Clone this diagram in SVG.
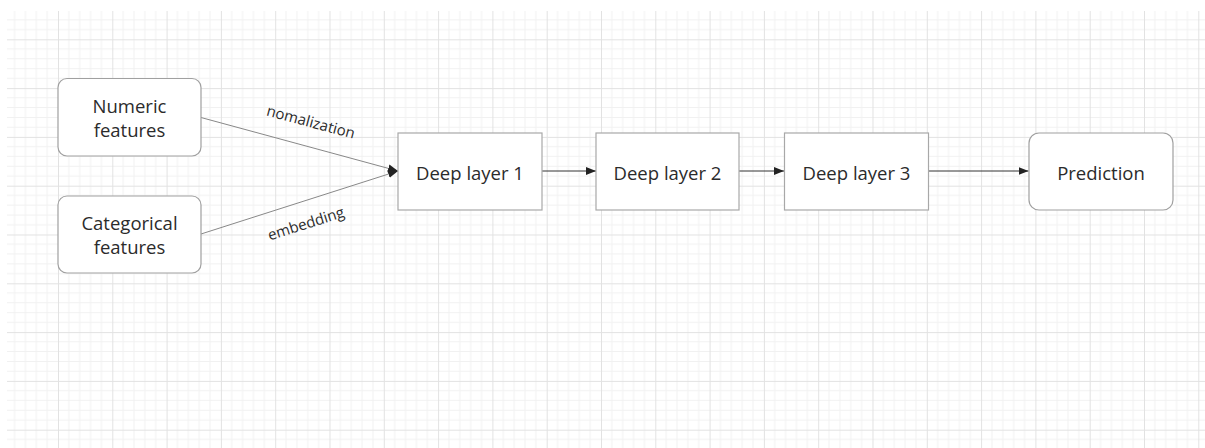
<svg xmlns="http://www.w3.org/2000/svg" width="1205" height="448" viewBox="0 0 1205 448">
  <defs>
    <pattern id="grid" patternUnits="userSpaceOnUse" x="3.7" y="-9.5" width="54.3" height="48.8">
      <g stroke="#f1f1f1" stroke-width="1">
        <line x1="10.86" y1="0" x2="10.86" y2="48.8"/>
        <line x1="21.72" y1="0" x2="21.72" y2="48.8"/>
        <line x1="32.58" y1="0" x2="32.58" y2="48.8"/>
        <line x1="43.44" y1="0" x2="43.44" y2="48.8"/>
        <line x1="0" y1="9.76" x2="54.3" y2="9.76"/>
        <line x1="0" y1="19.52" x2="54.3" y2="19.52"/>
        <line x1="0" y1="29.28" x2="54.3" y2="29.28"/>
        <line x1="0" y1="39.04" x2="54.3" y2="39.04"/>
      </g>
      <g stroke="#e2e2e2" stroke-width="1">
        <line x1="0.5" y1="0" x2="0.5" y2="48.8"/>
        <line x1="0" y1="0.5" x2="54.3" y2="0.5"/>
      </g>
    </pattern>
    <marker id="arrow" viewBox="0 0 10 10" refX="10" refY="5" markerWidth="10" markerHeight="10" markerUnits="userSpaceOnUse" orient="auto">
      <path d="M0,1 L10,5 L0,9 Z" fill="#222"/>
    </marker>
  </defs>
  <style>
    .node-round { fill: #ffffff; stroke: #a0a0a0; stroke-width: 1.2; }
    .node-box { fill: #ffffff; stroke: #a8a8a8; stroke-width: 1.2; }
    .label { font-family: "Open Sans", "Noto Sans", sans-serif; font-size: 18.5px; fill: #2b2b2b; text-anchor: middle; }
    .edge-label { font-family: "Open Sans", "Noto Sans", sans-serif; font-size: 15px; fill: #2b2b2b; text-anchor: middle; }
    .edge { fill: none; stroke: #333; stroke-width: 1; marker-end: url(#arrow); }
    .edge-soft { fill: none; stroke: #888; stroke-width: 1; marker-end: url(#arrow); }
  </style>

  <rect width="1205" height="448" fill="#ffffff"/>
  <rect x="7" y="11" width="1198" height="437" fill="url(#grid)"/>

  <g id="connectors">
    <line class="edge-soft" x1="201" y1="117.5" x2="398" y2="171"/>
    <line class="edge-soft" x1="201" y1="234" x2="398" y2="171"/>
    <line class="edge" x1="542" y1="171" x2="596" y2="171"/>
    <line class="edge" x1="739" y1="171" x2="784" y2="171"/>
    <line class="edge" x1="928" y1="171" x2="1028.5" y2="171"/>
    <text class="edge-label" transform="translate(309.5 127) rotate(15)">nomalization</text>
    <text class="edge-label" transform="translate(307.5 228.5) rotate(-17.5)">embedding</text>
  </g>

  <g id="numeric-features">
    <rect class="node-round" x="58" y="78.5" width="143" height="77.5" rx="9"/>
    <text class="label" x="129.5" y="112.5">Numeric</text>
    <text class="label" x="129.5" y="137">features</text>
  </g>

  <g id="categorical-features">
    <rect class="node-round" x="58" y="196" width="143" height="77" rx="9"/>
    <text class="label" x="129.5" y="230">Categorical</text>
    <text class="label" x="129.5" y="254">features</text>
  </g>

  <g id="deep-layer-1">
    <rect class="node-box" x="398" y="133" width="144" height="77"/>
    <text class="label" x="470" y="179.5">Deep layer 1</text>
  </g>

  <g id="deep-layer-2">
    <rect class="node-box" x="596" y="133" width="143" height="77"/>
    <text class="label" x="667.5" y="179.5">Deep layer 2</text>
  </g>

  <g id="deep-layer-3">
    <rect class="node-box" x="784.5" y="133" width="144" height="77"/>
    <text class="label" x="856.5" y="179.5">Deep layer 3</text>
  </g>

  <g id="prediction">
    <rect class="node-round" x="1029" y="133" width="144" height="77" rx="10"/>
    <text class="label" x="1101" y="179.5">Prediction</text>
  </g>
</svg>
